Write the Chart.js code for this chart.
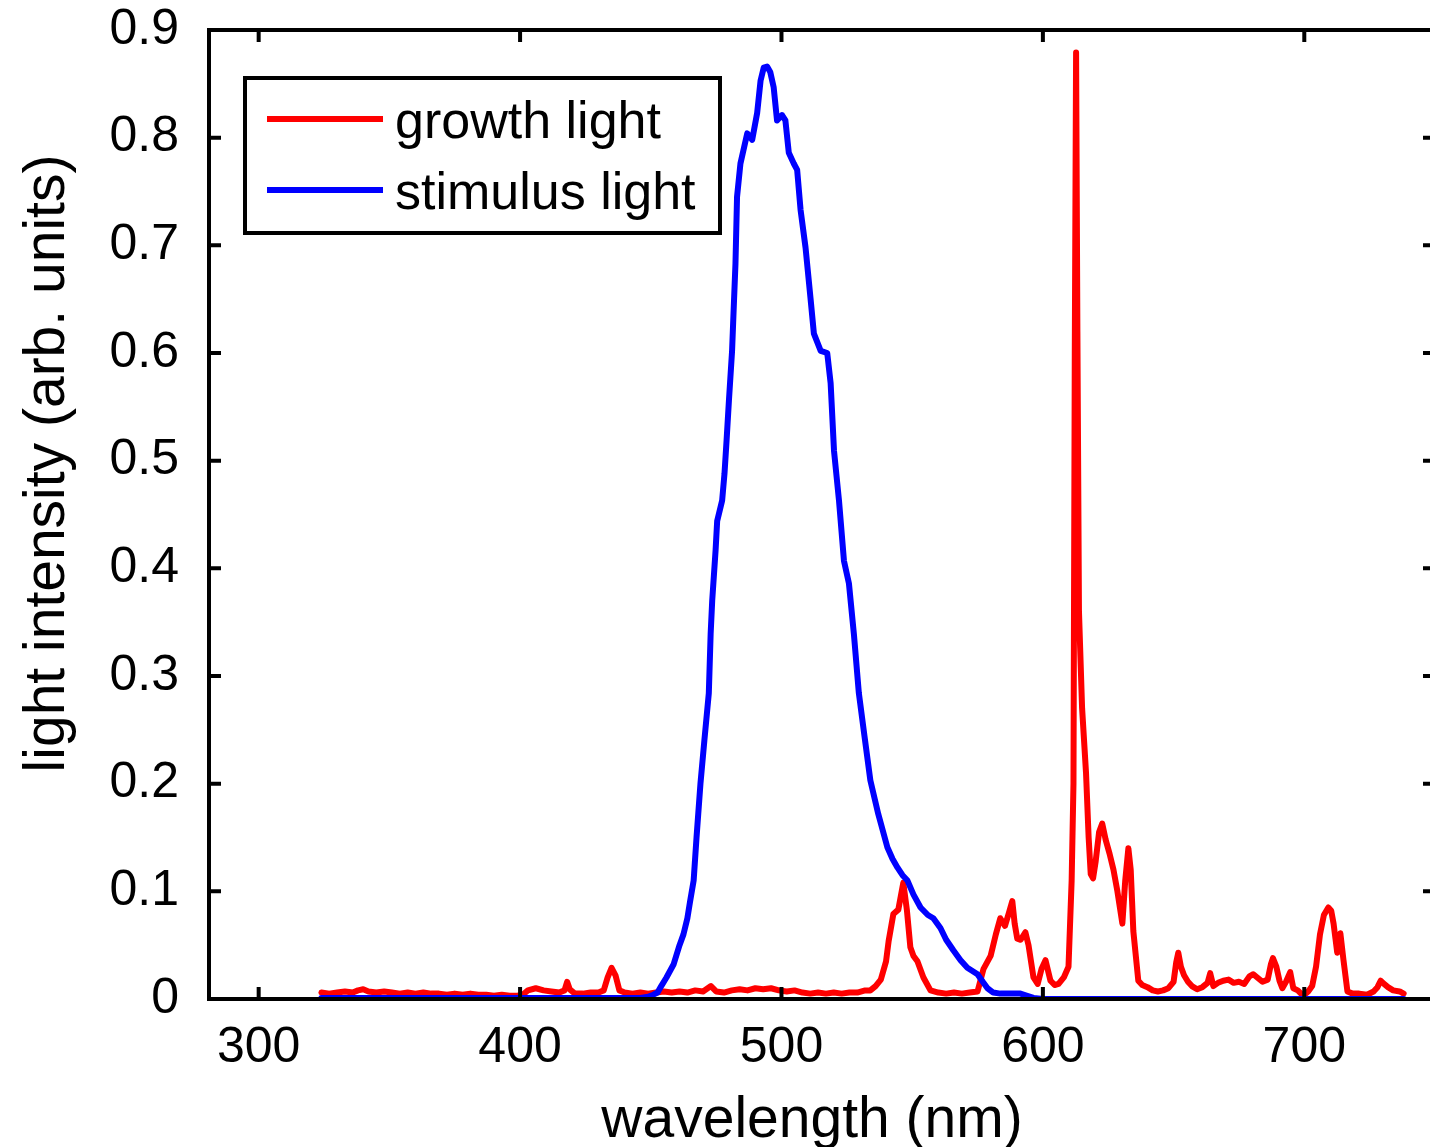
<!DOCTYPE html>
<html>
<head>
<meta charset="utf-8">
<script src="https://cdn.jsdelivr.net/npm/chart.js@4/dist/chart.umd.min.js"></script>
<style>
	html, body { margin: 0; padding: 0; background: #fff; overflow: hidden; }
	#wrap { width: 1440px; height: 1147px; }
</style>
</head>
<body>
<div id="wrap"><canvas id="espectro" width="1440" height="1147"></canvas></div>
<script>
// growth light (red), wavelength in nm and intensity
const growthNm = [
	324, 327, 330, 333, 336, 338, 340, 342, 345, 348, 351, 354, 357, 360, 363, 366, 369, 372, 375, 378,
	381, 384, 387, 390, 393, 396, 399, 401, 403, 406, 409, 412, 415, 417, 418, 419, 421, 424, 427, 430,
	432, 433.5, 435, 436.5, 438, 440, 443, 446, 449, 452, 455, 458, 461, 464, 467, 470, 473, 475, 478, 481,
	484, 487, 490, 493, 496, 499, 502, 505, 508, 511, 514, 517, 520, 523, 526, 529, 532, 534, 536, 538,
	540, 541, 542.8, 544.7, 546.6, 548, 549.3, 550.5, 552, 554.3, 557, 560, 563, 566, 569, 572, 575, 577.3, 580, 582,
	583.7, 585.5, 587, 588.3, 589.2, 590.2, 591.5, 593.3, 594.5, 596.4, 598, 599.5, 601, 602.9, 604.5, 606, 608, 609.8, 611, 611.7,
	612.2, 612.7, 613.2, 613.8, 615, 616.5, 617.5, 618.3, 619.2, 620.2, 621.5, 622.7, 624, 625.5, 627, 628.5, 630.4, 631.5, 632.7, 633.6,
	634.6, 636.5, 638, 640, 642, 644, 646, 648, 650, 651, 651.8, 652.8, 654, 655.5, 657, 659, 661, 663, 664, 665.2,
	667, 669, 671, 673, 675, 677, 679, 680.5, 682, 684, 686, 687.2, 688, 689.3, 690.5, 691.6, 693, 694.6, 695.8, 697.5,
	699.6, 701.5, 703, 704.5, 706, 707.5, 709.2, 710.3, 711.2, 712.6, 713.8, 715, 716.5, 718.5, 721, 724, 726.5, 728, 729.2, 730.5,
	732, 734, 736.5, 738
];
const growthVal = [
	0.006, 0.005, 0.006, 0.007, 0.006, 0.008, 0.009, 0.007, 0.006, 0.007, 0.006, 0.005, 0.006, 0.005, 0.006, 0.005, 0.005, 0.004, 0.005, 0.004,
	0.005, 0.004, 0.004, 0.003, 0.004, 0.003, 0.003, 0.004, 0.008, 0.010, 0.008, 0.007, 0.006, 0.008, 0.016, 0.009, 0.005, 0.005, 0.006, 0.006,
	0.008, 0.020, 0.029, 0.022, 0.008, 0.006, 0.005, 0.006, 0.005, 0.006, 0.007, 0.006, 0.007, 0.006, 0.008, 0.007, 0.012, 0.007, 0.006, 0.008,
	0.009, 0.008, 0.010, 0.009, 0.010, 0.008, 0.007, 0.008, 0.006, 0.005, 0.006, 0.005, 0.006, 0.005, 0.006, 0.006, 0.008, 0.008, 0.012, 0.018,
	0.035, 0.054, 0.079, 0.083, 0.108, 0.082, 0.048, 0.040, 0.035, 0.020, 0.008, 0.006, 0.005, 0.006, 0.005, 0.006, 0.007, 0.028, 0.040, 0.060,
	0.075, 0.068, 0.080, 0.091, 0.070, 0.056, 0.055, 0.062, 0.050, 0.020, 0.014, 0.028, 0.036, 0.017, 0.013, 0.014, 0.020, 0.030, 0.110, 0.200,
	0.600, 0.879, 0.620, 0.360, 0.270, 0.210, 0.150, 0.116, 0.112, 0.128, 0.155, 0.163, 0.148, 0.135, 0.120, 0.100, 0.070, 0.110, 0.140, 0.120,
	0.063, 0.017, 0.013, 0.011, 0.008, 0.007, 0.008, 0.010, 0.016, 0.034, 0.043, 0.030, 0.022, 0.016, 0.012, 0.009, 0.011, 0.015, 0.024, 0.012,
	0.015, 0.017, 0.018, 0.015, 0.016, 0.014, 0.021, 0.023, 0.020, 0.016, 0.018, 0.032, 0.038, 0.030, 0.017, 0.010, 0.016, 0.025, 0.010, 0.008,
	0.003, 0.007, 0.012, 0.030, 0.060, 0.078, 0.085, 0.082, 0.070, 0.043, 0.061, 0.036, 0.007, 0.005, 0.005, 0.004, 0.007, 0.011, 0.017, 0.014,
	0.011, 0.008, 0.007, 0.005
];

// stimulus light (blue)
const stimulusNm = [
	324, 340, 360, 380, 400, 420, 440, 446, 449, 451, 452.6, 454, 456, 458.7, 461, 462.5, 464, 465, 466.4, 467.5,
	469, 470.5, 472.2, 472.9, 473.5, 474.8, 475.4, 477.3, 478.2, 479, 479.9, 481.1, 481.7, 482.4, 483, 484.3, 486.9, 488.8, 490.7, 492,
	493.2, 494.5, 495.7, 497, 498.3, 500.2, 501.5, 502.8, 504.7, 506, 507.3, 509.2, 511.1, 512.4, 515, 517.5, 518.8, 520.1, 522, 523.9,
	525.8, 527.7, 529.6, 531.7, 534, 537, 540.5, 542.5, 544.4, 546.3, 548.2, 550.5, 553.2, 556, 558.1, 560.8, 563, 565.8, 568.5, 571.1,
	575, 577, 578.8, 581, 583.7, 587, 591.4, 594, 596.4, 600, 620, 640, 660, 680, 700, 720, 738
];
const stimulusVal = [
	0.001, 0.001, 0.001, 0.001, 0.001, 0.001, 0.001, 0.001, 0.002, 0.004, 0.006, 0.012, 0.020, 0.032, 0.050, 0.060, 0.075, 0.090, 0.110, 0.150,
	0.200, 0.240, 0.284, 0.339, 0.370, 0.417, 0.444, 0.463, 0.488, 0.519, 0.556, 0.602, 0.640, 0.683, 0.745, 0.776, 0.804, 0.798, 0.823, 0.853,
	0.865, 0.866, 0.861, 0.847, 0.816, 0.821, 0.816, 0.786, 0.776, 0.770, 0.733, 0.698, 0.651, 0.618, 0.602, 0.600, 0.572, 0.509, 0.463, 0.407,
	0.386, 0.339, 0.284, 0.245, 0.203, 0.172, 0.141, 0.130, 0.122, 0.115, 0.110, 0.097, 0.085, 0.078, 0.075, 0.066, 0.055, 0.045, 0.036, 0.029,
	0.023, 0.016, 0.010, 0.006, 0.005, 0.005, 0.005, 0.003, 0.001, 0, 0, 0, 0, 0, 0, 0, 0
];

const xTicks = [300, 400, 500, 600, 700];
const yTicks = [0, 0.1, 0.2, 0.3, 0.4, 0.5, 0.6, 0.7, 0.8, 0.9];
const xTitle = 'wavelength (nm)';
const yTitle = 'light intensity (arb. units)';

const fuente = '"Liberation Sans", Arial, sans-serif';

function puntos(xs, ys) {
	return xs.map((x, i) => ({ x: x, y: ys[i] }));
}

// caja con marcas hacia dentro, estilo matlab, encima de las curvas
const marcoPlugin = {
	id: 'marco',
	afterDatasetsDraw(chart) {
		const { ctx, chartArea: a, scales } = chart;
		const len = 12;
		ctx.save();
		ctx.strokeStyle = '#000';
		ctx.lineWidth = 4;
		ctx.beginPath();
		xTicks.forEach(v => {
			const px = scales.x.getPixelForValue(v);
			ctx.moveTo(px, a.bottom); ctx.lineTo(px, a.bottom - len);
			ctx.moveTo(px, a.top); ctx.lineTo(px, a.top + len);
		});
		yTicks.forEach(v => {
			const py = scales.y.getPixelForValue(v);
			ctx.moveTo(a.left, py); ctx.lineTo(a.left + len, py);
			ctx.moveTo(a.right, py); ctx.lineTo(a.right - len, py);
		});
		ctx.stroke();
		ctx.strokeRect(a.left, a.top, a.right - a.left, a.bottom - a.top);

		// leyenda
		const bx = a.left + 36, by = a.top + 48, bw = 475, bh = 155;
		ctx.fillStyle = '#fff';
		ctx.fillRect(bx, by, bw, bh);
		ctx.strokeRect(bx, by, bw, bh);
		ctx.font = '52px ' + fuente;
		ctx.textBaseline = 'alphabetic';
		ctx.textAlign = 'left';
		chart.data.datasets.forEach((ds, i) => {
			const ly = by + 41 + i * 71;
			ctx.strokeStyle = ds.borderColor;
			ctx.lineWidth = 6;
			ctx.beginPath();
			ctx.moveTo(bx + 22, ly); ctx.lineTo(bx + 138, ly);
			ctx.stroke();
			ctx.fillStyle = '#000';
			ctx.fillText(ds.label, bx + 150, ly + 19);
		});
		ctx.restore();
	},
	afterDraw(chart) {
		const { ctx, chartArea: a } = chart;
		ctx.save();
		ctx.fillStyle = '#000';
		ctx.font = '57px ' + fuente;
		ctx.textAlign = 'center';
		ctx.textBaseline = 'alphabetic';
		ctx.fillText(xTitle, (a.left + a.right) / 2 - 10, 1137);
		ctx.translate(64, (a.top + a.bottom) / 2 - 51);
		ctx.rotate(-Math.PI / 2);
		ctx.fillText(yTitle, 0, 0);
		ctx.restore();
	}
};

new Chart(document.getElementById('espectro'), {
	type: 'line',
	data: {
		datasets: [{
			label: 'growth light',
			data: puntos(growthNm, growthVal),
			borderColor: 'rgb(255, 0, 0)',
			borderWidth: 6,
			order: 1
		}, {
			label: 'stimulus light',
			data: puntos(stimulusNm, stimulusVal),
			borderColor: 'rgb(0, 0, 255)',
			borderWidth: 6,
			order: 0
		}]
	},
	options: {
		responsive: false,
		animation: false,
		layout: { padding: { top: 0, right: 5, left: 0, bottom: 0 } },
		elements: {
			point: { radius: 0 },
			line: { tension: 0, borderJoinStyle: 'round', borderCapStyle: 'round' }
		},
		plugins: {
			legend: { display: false },
			tooltip: { enabled: false }
		},
		scales: {
			x: {
				type: 'linear',
				min: 281,
				max: 750,
				grid: { display: false, drawTicks: false },
				border: { display: false },
				ticks: { color: '#000', font: { family: fuente, size: 50 }, padding: 19, maxRotation: 0 },
				afterBuildTicks: s => { s.ticks = xTicks.map(v => ({ value: v })); },
				afterFit: s => { s.height = 148; }
			},
			y: {
				min: 0,
				max: 0.9,
				grid: { display: false, drawTicks: false },
				border: { display: false },
				ticks: { color: '#000', font: { family: fuente, size: 50 }, padding: 30, callback: v => String(v) },
				afterBuildTicks: s => { s.ticks = yTicks.map(v => ({ value: v })); },
				afterFit: s => { s.width = 209; s.paddingTop = 30; s.paddingBottom = 0; }
			}
		}
	},
	plugins: [marcoPlugin]
});
</script>
</body>
</html>
